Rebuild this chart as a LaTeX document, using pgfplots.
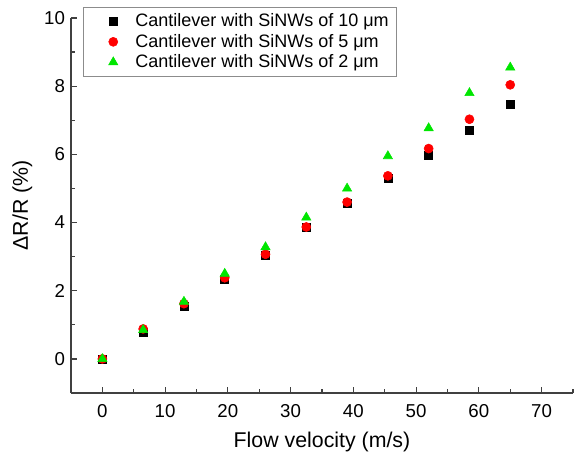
\documentclass[border=0pt]{standalone}
\usepackage{fontspec}
\setmainfont{Liberation Sans}
\usepackage{pgfplots}
\pgfplotsset{compat=1.18}
\begin{document}
\begin{tikzpicture}[x=1pt,y=1pt]
\begin{axis}[
  name=ax,
  at={(0,0)}, anchor=south west,
  scale only axis,
  width=376.5pt, height=281.25pt,
  xmin=-5, xmax=75, ymin=-1, ymax=10,
  axis x line*=bottom, axis y line*=left,
  axis line style={-, line width=1pt, color=black!75},
  xtick={0,10,...,70}, ytick={0,2,...,10},
  minor xtick={5,15,...,75}, minor ytick={-1,1,...,9},
  tick align=inside,
  major tick length=4.5pt, minor tick length=3pt,
  tick style={line width=0.9pt, color=black!75},
  ticklabel style={font=\fontsize{14}{16}\selectfont},
  xticklabel style={yshift=-5pt},
  yticklabel style={xshift=-1pt},
  /pgf/number format/assume math mode=true,
  xlabel={Flow velocity (m/s)},
  ylabel={\char"0394 R/R (\%)},
  label style={font=\fontsize{16}{18}\selectfont},
  xlabel style={yshift=-4pt},
  ylabel style={yshift=2pt},
  legend style={at={(axis description cs:0,1)}, anchor=north west, xshift=9pt, yshift=8.25pt,
    draw=black!45, font=\fontsize{13.5}{14}\selectfont, row sep=0pt, inner xsep=4pt, inner ysep=3pt},
  legend cell align=left,
  legend image code/.code={\path[draw=none,fill=none] (0pt,0pt) -- (33pt,0pt); \draw plot coordinates {(18.5pt,0pt)};},
]
\addplot[only marks, mark=square*, mark size=3pt, color=black] coordinates {
(0,0) (6.5,0.78) (13,1.55) (19.5,2.35) (26,3.05) (32.5,3.85) (39,4.58) (45.5,5.3) (52,5.97) (58.5,6.72) (65,7.48)};
\addlegendentry{Cantilever with SiNWs of 10 \char"03BC m}
\addplot[only marks, mark=*, mark size=3.4pt, color=red] coordinates {
(0,0) (6.5,0.88) (13,1.62) (19.5,2.38) (26,3.07) (32.5,3.87) (39,4.6) (45.5,5.37) (52,6.17) (58.5,7.03) (65,8.04)};
\addlegendentry{Cantilever with SiNWs of 5 \char"03BC m}
\addplot[only marks, mark=triangle*, mark size=4pt, color={rgb,255:red,0;green,230;blue,0}] coordinates {
(0,0) (6.5,0.85) (13,1.68) (19.5,2.5) (26,3.28) (32.5,4.15) (39,5.0) (45.5,5.95) (52,6.77) (58.5,7.8) (65,8.55)};
\addlegendentry{Cantilever with SiNWs of 2 \char"03BC m}
\end{axis}
\path (-53.25,-44.25) rectangle (380.25,294.75);
\end{tikzpicture}
\end{document}
